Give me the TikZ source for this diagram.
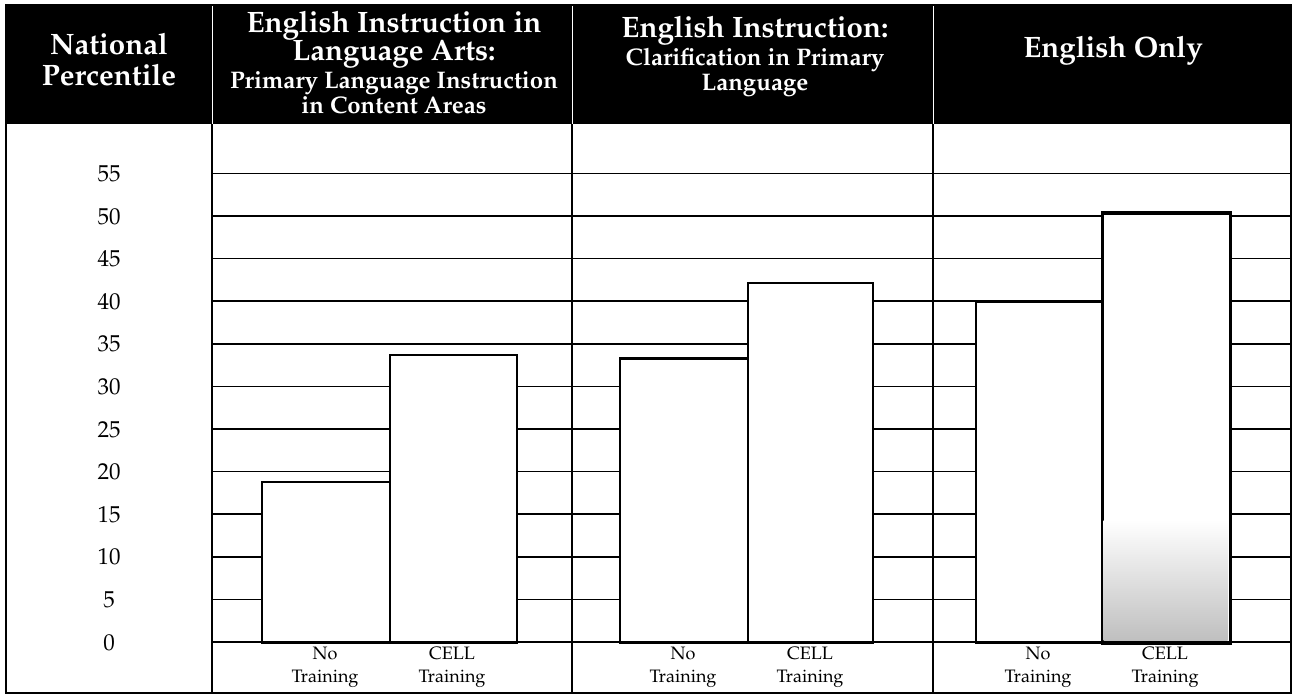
\documentclass[tikz,border=0pt]{standalone}
\usepackage[T1]{fontenc}
\usepackage{mathpazo}
\begin{document}
\begin{tikzpicture}[x=1pt,y=-1pt,
  hdr/.style={text=white,anchor=base,inner sep=0pt,font=\fontsize{29.5}{32}\selectfont\bfseries},
  hsub/.style={text=white,anchor=base,inner sep=0pt,font=\fontsize{24}{26}\selectfont\bfseries},
  ylab/.style={anchor=base,inner sep=0pt,font=\fontsize{23}{23}\selectfont},
  xlab/.style={anchor=base,inner sep=0pt,font=\fontsize{18}{20}\selectfont},
  gridln/.style={line width=1.6pt},
  barbox/.style={draw=black,fill=white,line width=2.2pt},
  frame/.style={line width=1.6pt}]
\useasboundingbox (0,0) rectangle (1294,697);
% header band
\fill[black] (6,5) rectangle (1291,124);
\foreach \xx in {212,572,933}{\draw[white,line width=0.8pt] (\xx,5) -- (\xx,124);}
% gridlines
\foreach \ca/\cb in {212/572,572/933,933/1291}{
  \foreach \v in {5,10,...,55}{
    \pgfmathsetmacro{\yy}{642-8.52*\v}
    \draw[gridln] (\ca,\yy) -- (\cb,\yy);
  }
}
% bars
\newcommand{\barat}[4]{% name, x1, x2, value
  \pgfmathsetmacro{\yt}{642-8.52*#4}
  \node[barbox,anchor=north west,minimum width=#3-#2,minimum height=642-\yt,inner sep=0pt] (#1) at (#2,\yt) {};
}
\barat{b1n}{261}{389}{18.9}
\barat{b1c}{389}{516}{33.8}
\barat{b2n}{619}{747}{33.4}
\barat{b2c}{747}{872}{42.3}
\barat{b3n}{975}{1102}{40.1}
\barat{b3c}{1102}{1229}{50.4}
\shade[top color=white,bottom color=gray!50] (1103.5,520) rectangle (1227.5,640.5);
\draw[line width=2.2pt] (b3c.north west) rectangle (b3c.south east);
% zero line and frame
\draw[gridln] (212,642) -- (1291,642);
\draw[frame] (6,5) rectangle (1291,693);
\foreach \xx in {212,572,933}{\draw[frame] (\xx,124) -- (\xx,693);}
% header texts
\node[hdr] (n1) at (109,54) {National};
\node[hdr] (n2) at (109,85) {Percentile};
\node[hdr] (a1) at (394,32) {English Instruction in};
\node[hdr] (a2) at (394,60) {Language Arts:};
\node[hsub] (a3) at (394,88) {Primary Language Instruction};
\node[hsub] (a4) at (394,113) {in Content Areas};
\node[hdr] (c1) at (755,37) {English Instruction:};
\node[hsub] (c2) at (755,65) {Clarification in Primary};
\node[hsub] (c3) at (755,90) {Language};
\node[hdr] (e1) at (1113,57) {English Only};
% y labels
\foreach \v in {0,5,...,55}{
  \pgfmathsetmacro{\yy}{642-8.52*\v+8}
  \node[ylab] (y\v) at (109,\yy) {\v};
}
% x labels
\foreach \nm/\xx in {p1/325,p2/683,p3/1038}{
  \node[xlab] (\nm a) at (\xx,659) {No};
  \node[xlab] (\nm b) at (\xx,682) {Training};
}
\foreach \nm/\xx in {q1/452,q2/810,q3/1165}{
  \node[xlab] (\nm a) at (\xx,659) {CELL};
  \node[xlab] (\nm b) at (\xx,682) {Training};
}
\end{tikzpicture}
\end{document}
